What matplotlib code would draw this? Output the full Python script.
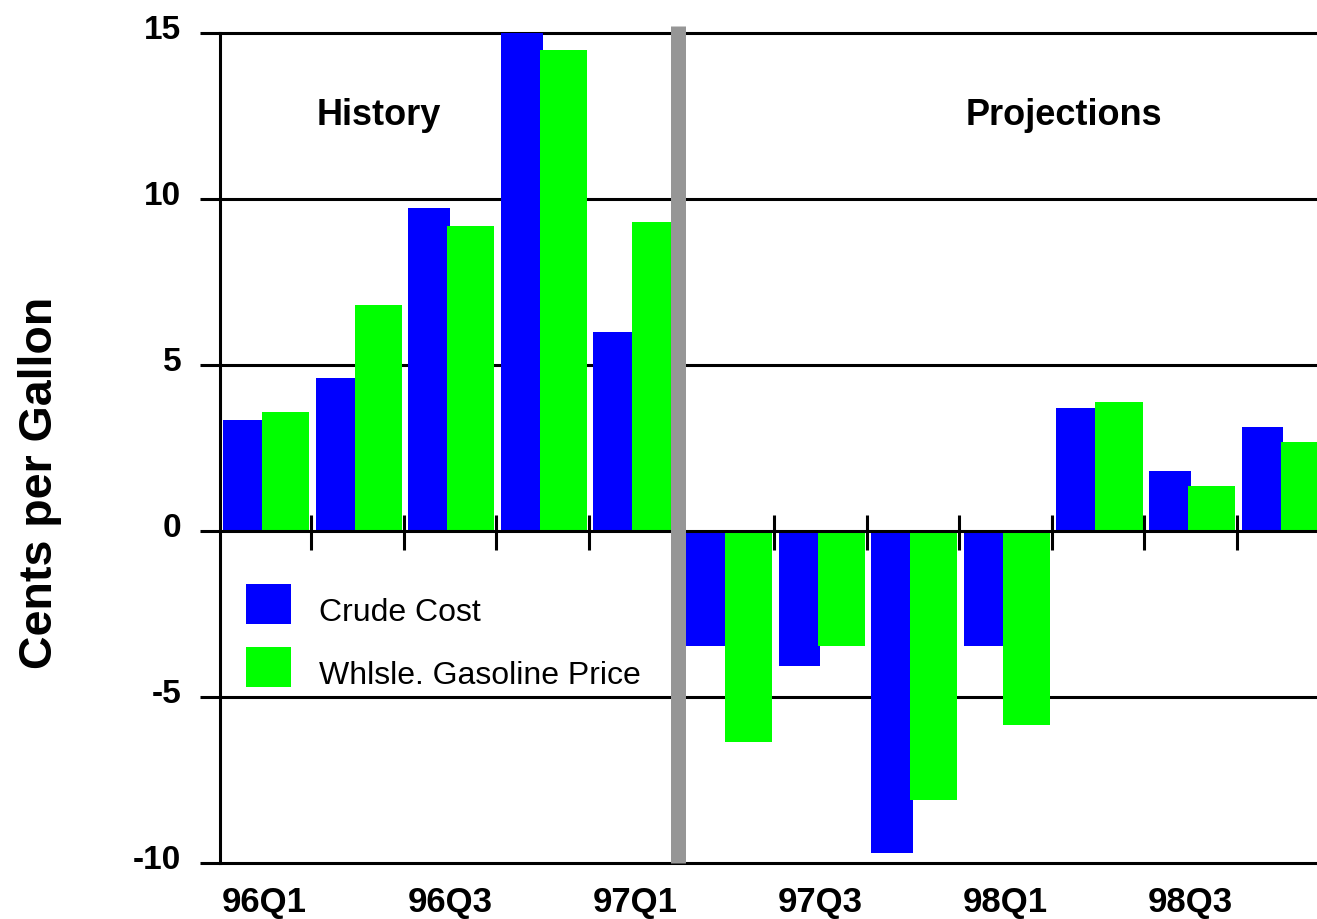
import matplotlib
matplotlib.use("Agg")
import matplotlib.pyplot as plt
import matplotlib.transforms as mtransforms
import numpy as np

# Quarterly change, cents per gallon
quarters = ["96Q1", "96Q2", "96Q3", "96Q4", "97Q1", "97Q2",
            "97Q3", "97Q4", "98Q1", "98Q2", "98Q3", "98Q4"]
crude_cost = [3.35, 4.6, 9.75, 15.0, 6.0, -3.45,
              -4.05, -9.7, -3.45, 3.7, 1.8, 3.15]
gasoline_price = [3.6, 6.8, 9.2, 14.5, 9.3, -6.35,
                  -3.45, -8.1, -5.85, 3.9, 1.35, 2.7]
history_quarters = 5          # 96Q1..97Q1 are actual values
y_ticks = [-10, -5, 0, 5, 10, 15]

BLUE = "#0000FF"
GREEN = "#00FF00"
GREY = "#969696"
FONT = ["Liberation Sans", "DejaVu Sans"]
plt.rcParams["font.family"] = FONT

W, H = 1317, 920
fig = plt.figure(figsize=(W / 100, H / 100), dpi=100)
ax_left, ax_right = 219.5, 1317
ax_top, ax_bottom = 34.3, 864.0
ax = fig.add_axes([ax_left / W, 1 - ax_bottom / H,
                   (ax_right - ax_left) / W, (ax_bottom - ax_top) / H])

# x = i is the left edge of quarter i; one quarter spans one unit
group_px = 92.6
origin_px = 218.4
ax.set_xlim((ax_left - origin_px) / group_px, (ax_right - origin_px) / group_px)
ax.set_ylim(-10, 15)

idx = np.arange(len(quarters))
ax.bar(idx + 0.05, crude_cost, width=0.45, align="edge", color=BLUE,
       linewidth=0, zorder=2, label="Crude Cost")
ax.bar(idx + 0.47, gasoline_price, width=0.51, align="edge", color=GREEN,
       linewidth=0, zorder=2.1, label="Whlsle. Gasoline Price")

# horizontal rules with short stubs left of the axis
ax.set_yticks(y_ticks)
ax.set_yticklabels([str(v) for v in y_ticks], fontsize=24, fontweight="bold")
ax.tick_params(axis="y", length=14.4, width=2.2, pad=13, color="black")
for v in y_ticks:
    ax.axhline(v, color="black", linewidth=2.2,
               zorder=3 if v == 0 else 1, clip_on=False)
shift_up = mtransforms.ScaledTranslation(0, 7 / 100, fig.dpi_scale_trans)
for lab in ax.get_yticklabels():
    lab.set_transform(lab.get_transform() + shift_up)

# quarter separators crossing the zero line
boundaries = idx[1:]
ax.vlines(boundaries, -0.58, 0.5, color="black", linewidth=2.2, zorder=3)

# labels for every other quarter, centred under each quarter
ax.set_xticks(idx[::2] + 0.5)
ax.set_xticklabels(quarters[::2], fontsize=25, fontweight="bold")
ax.tick_params(axis="x", length=0, pad=16)

for side in ("top", "right", "bottom"):
    ax.spines[side].set_visible(False)
ax.spines["left"].set_linewidth(2.2)
ax.spines["left"].set_zorder(3)

# history / projections divider
ax.axvline(history_quarters - 0.04, ymin=0, ymax=1 + 7.5 / (ax_bottom - ax_top),
           color=GREY, linewidth=10.8, zorder=4, clip_on=False,
           solid_capstyle="butt")

ax.text(1.73, 12.55, "History", ha="center", va="center",
        fontsize=26, fontweight="bold")
ax.text(9.13, 12.55, "Projections", ha="center", va="center",
        fontsize=26, fontweight="bold")

fig.text(40 / W, 1 - 483 / H, "Cents per Gallon", rotation=90,
         ha="center", va="center", fontsize=33.5, fontweight="bold")

leg = ax.legend(loc="upper left", bbox_to_anchor=(246 / W, 1 - 585 / H),
                bbox_transform=fig.transFigure, frameon=False, fontsize=23,
                borderpad=0, borderaxespad=0, handlelength=1.41,
                handleheight=1.55, handletextpad=0.88, labelspacing=0.72)
shift_down = mtransforms.ScaledTranslation(0, -5 / 100, fig.dpi_scale_trans)
for t in leg.get_texts():
    t.set_transform(t.get_transform() + shift_down)

fig.savefig("out.png", dpi=100)
